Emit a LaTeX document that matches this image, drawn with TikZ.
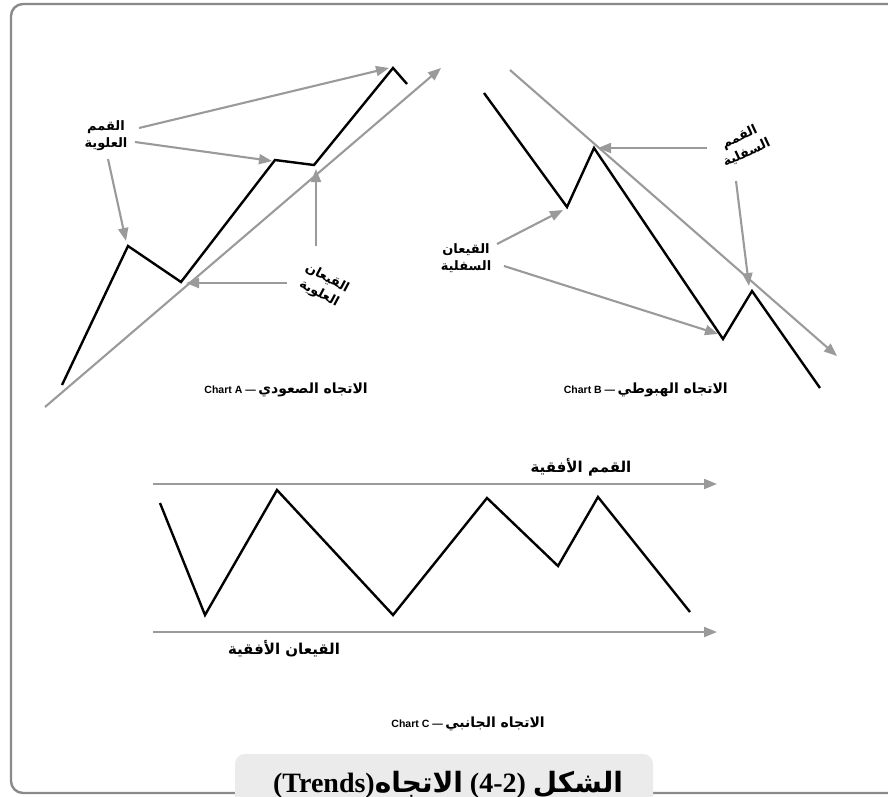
\documentclass[tikz,border=0pt]{standalone}
\usepackage{fontspec}
\setmainfont{Liberation Serif}
\newfontfamily\arab[Script=Arabic]{DejaVu Sans Bold}
\newfontfamily\latsans{Liberation Sans}
\TeXXeTstate=1
\usetikzlibrary{arrows.meta}
\definecolor{arrowgray}{HTML}{9A9A9A}
\definecolor{framegray}{HTML}{8A8A8A}
\definecolor{capfill}{HTML}{EBEBEB}
\tikzset{
  price/.style={draw=black, line width=2.4pt, line join=miter, line cap=butt},
  garrow/.style={draw=arrowgray, line width=2.1pt, -{Triangle[length=13pt,width=10pt]}},
  glabel/.style={font=\arab\fontsize{13}{17}\selectfont, align=center, inner sep=0pt},
  hlabel/.style={font=\arab\fontsize{15}{17}\selectfont, inner sep=0pt},
  ctitle/.style={inner sep=0pt, anchor=base east},
}
\newcommand{\ttlat}[1]{{\latsans\bfseries\fontsize{10.5}{12}\selectfont #1}}
\newcommand{\ttarab}[1]{{\arab\fontsize{14}{16}\selectfont\beginR #1\endR}}
\begin{document}
\begin{tikzpicture}[x=1pt,y=-1pt]
\useasboundingbox (0,0) rectangle (888,796);
\begin{scope}
\clip (0,0) rectangle (888,796);
% frame
\draw[framegray, line width=2.4pt, rounded corners=12pt] (11,4) rectangle (905,793);

% ---------- Chart A ----------
\coordinate (a0) at (62,385);
\coordinate (a1) at (128,246);
\coordinate (a2) at (181,282);
\coordinate (a3) at (275,160);
\coordinate (a4) at (314,165);
\coordinate (a5) at (393,68);
\coordinate (a6) at (407,84);
\coordinate (ta0) at (45,407);
\coordinate (ta1) at (441,68);
\draw[garrow] (ta0) -- (ta1);
\draw[price] (a0) -- (a1) -- (a2) -- (a3) -- (a4) -- (a5) -- (a6);

\node[glabel] (lA) at (106,136) {\beginR القمم\endR\\\beginR العلوية\endR};
\coordinate (lA1) at (139,128);
\coordinate (lA2) at (135,142);
\coordinate (lA3) at (108,159);
\coordinate (pA1) at (389,68);
\coordinate (pA2) at (272,161);
\coordinate (pA3) at (126,241);
\draw[garrow] (lA1) -- (pA1);
\draw[garrow] (lA2) -- (pA2);
\draw[garrow] (lA3) -- (pA3);

\node[glabel, rotate=-28] (lB) at (323,286) {\beginR القيعان\endR\\\beginR العلوية\endR};
\coordinate (lB1) at (316,246);
\coordinate (lB2) at (287,283);
\coordinate (vA1) at (316,169);
\coordinate (vA2) at (186,283);
\draw[garrow] (lB1) -- (vA1);
\draw[garrow] (lB2) -- (vA2);

\node[ctitle] (tA) at (368,393) {\ttlat{Chart A —} \ttarab{الاتجاه الصعودي}};

% ---------- Chart B ----------
\coordinate (b0) at (484,93);
\coordinate (b1) at (567,207);
\coordinate (b2) at (594,148);
\coordinate (b3) at (723,339);
\coordinate (b4) at (752,291);
\coordinate (b5) at (820,388);
\coordinate (tb0) at (510,70);
\coordinate (tb1) at (837,356);
\draw[garrow] (tb0) -- (tb1);
\draw[price] (b0) -- (b1) -- (b2) -- (b3) -- (b4) -- (b5);

\node[glabel, rotate=25] (lC) at (743,145) {\beginR القمم\endR\\\beginR السفلية\endR};
\coordinate (lC1) at (707,148);
\coordinate (lC2) at (736,181);
\coordinate (pB1) at (598,148);
\coordinate (pB2) at (749,286);
\draw[garrow] (lC1) -- (pB1);
\draw[garrow] (lC2) -- (pB2);

\node[glabel] (lD) at (466,258) {\beginR القيعان\endR\\\beginR السفلية\endR};
\coordinate (lD1) at (497,244);
\coordinate (lD2) at (504,266);
\coordinate (vB1) at (563,210);
\coordinate (vB2) at (718,334);
\draw[garrow] (lD1) -- (vB1);
\draw[garrow] (lD2) -- (vB2);

\node[ctitle] (tB) at (728,393) {\ttlat{Chart B —} \ttarab{الاتجاه الهبوطي}};

% ---------- Chart C ----------
\coordinate (h0) at (153,484);
\coordinate (h1) at (717,484);
\coordinate (h2) at (153,632);
\coordinate (h3) at (717,632);
\draw[garrow] (h0) -- (h1);
\draw[garrow] (h2) -- (h3);
\draw[price] (160,503) coordinate (c0) -- (205,615) coordinate (c1) -- (277,490) coordinate (c2)
  -- (393,615) coordinate (c3) -- (487,498) coordinate (c4) -- (558,566) coordinate (c5)
  -- (598,497) coordinate (c6) -- (690,612) coordinate (c7);
\node[hlabel] (lE) at (581,467) {\beginR القمم الأفقية\endR};
\node[hlabel] (lF) at (284,649) {\beginR القيعان الأفقية\endR};

\node[ctitle] (tC) at (545,727) {\ttlat{Chart C —} \ttarab{الاتجاه الجانبي}};

% ---------- caption ----------
\fill[capfill, rounded corners=10pt] (235,754) rectangle (653,810);
\node[inner sep=0pt, anchor=base, font=\bfseries\fontsize{28}{30}\selectfont] (cap) at (448,792)
  {(Trends){\arab\beginR الاتجاه\endR} (4-2) {\arab\beginR الشكل\endR}};
\end{scope}
\end{tikzpicture}
\end{document}
